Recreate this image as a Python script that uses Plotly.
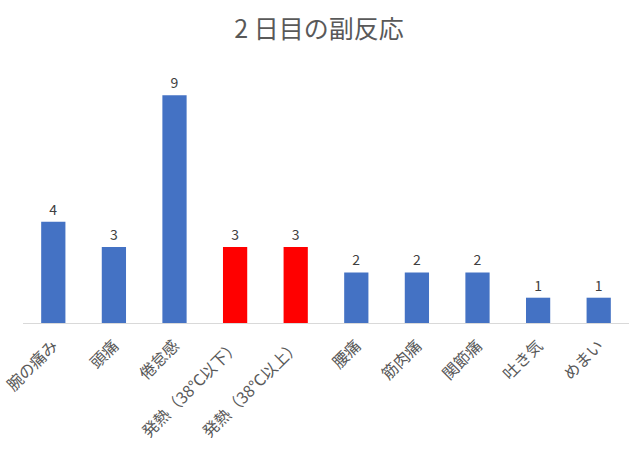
import plotly.graph_objects as go

categories = ["腕の痛み", "頭痛", "倦怠感", "発熱（38℃以下）", "発熱（38℃以上）",
              "腰痛", "筋肉痛", "関節痛", "吐き気", "めまい"]
values = [4, 3, 9, 3, 3, 2, 2, 2, 1, 1]
colors = ["#4472C4", "#4472C4", "#4472C4", "#FF0000", "#FF0000",
          "#4472C4", "#4472C4", "#4472C4", "#4472C4", "#4472C4"]

FONT = "Noto Sans CJK JP, Noto Sans, sans-serif"

fig = go.Figure(go.Bar(
    x=categories, y=values, marker=dict(color=colors, line=dict(width=0)),
    width=0.4, text=values, textposition="outside",
    textfont=dict(size=14, color="#404040", family=FONT),
    cliponaxis=False,
))

fig.update_layout(
    width=638, height=450,
    margin=dict(l=23, r=9, t=70, b=127, autoexpand=False),
    paper_bgcolor="white", plot_bgcolor="white",
    title=dict(text="2 日目の副反応", x=0.5, xanchor="center", y=0.935, yanchor="middle",
               font=dict(size=25, color="#595959", family=FONT)),
    showlegend=False,
    font=dict(family=FONT),
)
fig.update_xaxes(showline=True, linecolor="#D9D9D9", linewidth=1, tickangle=-45,
                 tickfont=dict(size=16, color="#595959", family=FONT), ticks="",
                 ticklabelstandoff=6, showgrid=False, automargin=False)
fig.update_yaxes(range=[0, 10], visible=False, showgrid=False, zeroline=False,
                 automargin=False)

fig.write_html("out.html")
